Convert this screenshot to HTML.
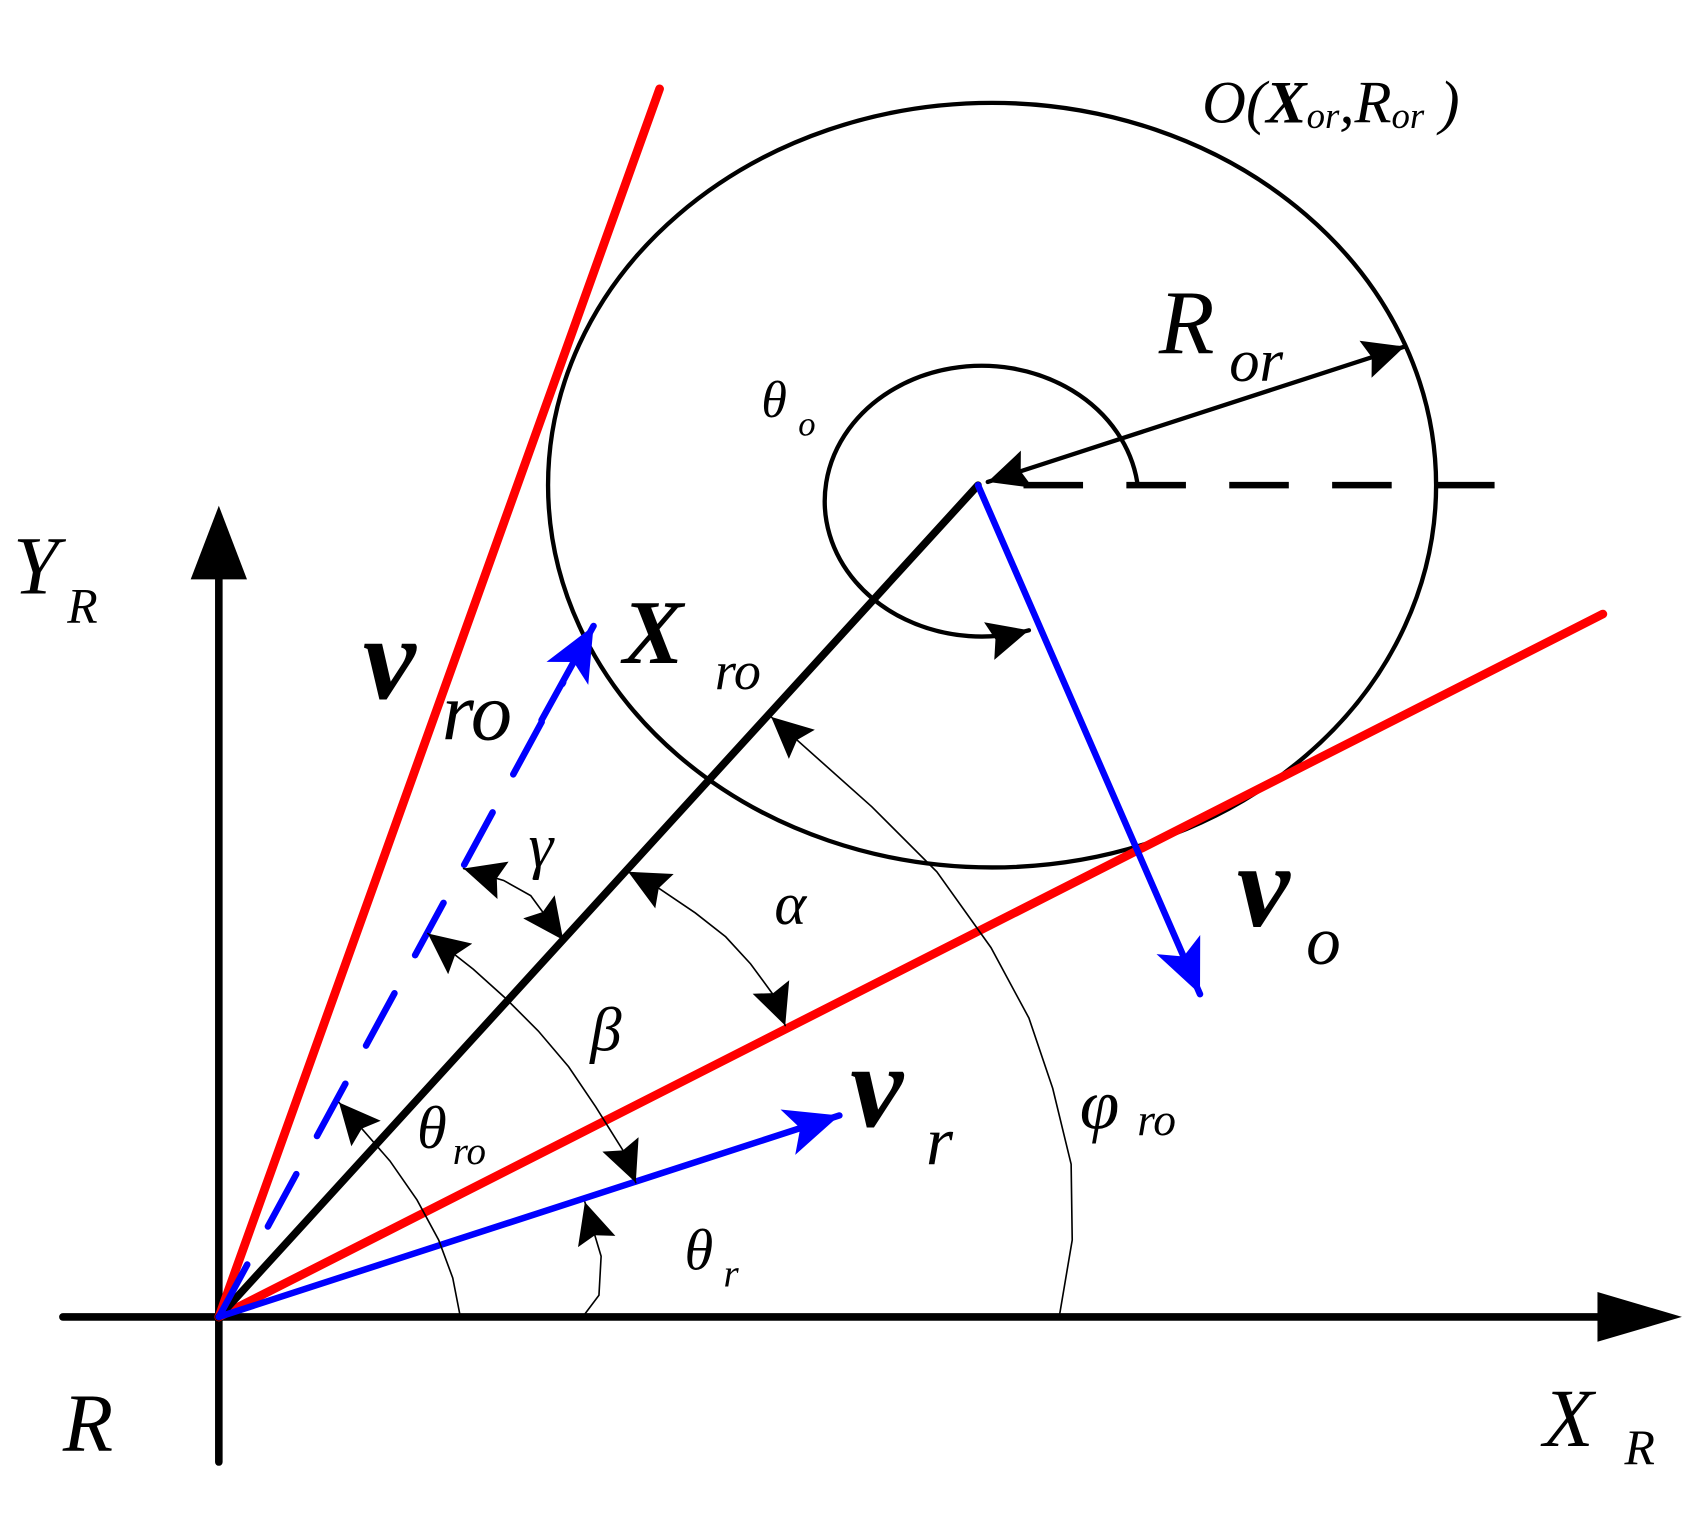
<!DOCTYPE html>
<html><head><meta charset="utf-8"><style>html,body{margin:0;padding:0;background:#fff}svg{display:block}</style></head>
<body>
<svg width="1695" height="1527" viewBox="0 0 1565 1410" xmlns="http://www.w3.org/2000/svg">
<defs>
<marker id="ak" markerUnits="userSpaceOnUse" markerWidth="44" markerHeight="44" refX="38" refY="18" orient="auto-start-reverse" viewBox="0 0 44 36"><polygon points="0,0 38,18 0,36 6,18" fill="#000"/></marker>
<marker id="ab" markerUnits="userSpaceOnUse" markerWidth="56" markerHeight="56" refX="50" refY="22" orient="auto" viewBox="0 0 56 44"><polygon points="0,0 50,22 0,44 12,22" fill="#00f"/></marker>
</defs>
<g fill="none" stroke-linecap="round">
<ellipse cx="916" cy="448" rx="410" ry="353" stroke="#000" stroke-width="4"/>
<path d="M1050,445 A145,125 0 1 0 950,582" stroke="#000" stroke-width="4" marker-end="url(#ak)"/>
<line x1="945" y1="448" x2="1385" y2="448" stroke="#000" stroke-width="6" stroke-dasharray="55 40" stroke-linecap="butt"/>
<line x1="912" y1="445" x2="1297" y2="320" stroke="#000" stroke-width="4" marker-start="url(#ak)" marker-end="url(#ak)"/>
<line x1="58" y1="1216" x2="1480" y2="1216" stroke="#000" stroke-width="7"/>
<polygon points="1475,1193 1553,1216 1475,1239" fill="#000"/>
<line x1="202" y1="1350" x2="202" y2="530" stroke="#000" stroke-width="7"/>
<polygon points="176,535 202,467 228,535" fill="#000"/>
<line x1="202" y1="1216" x2="609" y2="82" stroke="#f00" stroke-width="8"/>
<line x1="202" y1="1216" x2="1480" y2="567" stroke="#f00" stroke-width="8"/>
<line x1="202" y1="1216" x2="903" y2="448" stroke="#000" stroke-width="7"/>
<line x1="903" y1="448" x2="1108" y2="918" stroke="#00f" stroke-width="6" marker-end="url(#ab)"/>
<line x1="202" y1="1216" x2="775" y2="1030" stroke="#00f" stroke-width="6" marker-end="url(#ab)"/>
<line x1="202" y1="1216" x2="520" y2="630" stroke="#00f" stroke-width="6" stroke-dasharray="55 40" stroke-linecap="round"/>
<line x1="500" y1="665" x2="548" y2="578" stroke="#00f" stroke-width="6" marker-end="url(#ab)"/>
<g stroke="#000" stroke-width="1.5">
<polyline points="978,1216 990,1145 989,1075 972,1005 950,940 915,875 865,805 805,745 712,662" marker-end="url(#ak)"/>
<polyline points="538,1216 553,1196 555,1160 540,1110" marker-end="url(#ak)"/>
<polyline points="425,1216 418,1180 405,1145 385,1108 360,1072 313,1018" marker-end="url(#ak)"/>
<polyline points="395,862 437,895 467,922 497,952 525,985 550,1022 575,1062 587,1092" marker-start="url(#ak)" marker-end="url(#ak)"/>
<polyline points="580,805 608,820 642,843 670,865 693,890 715,920 725,947" marker-start="url(#ak)" marker-end="url(#ak)"/>
<polyline points="428,802 465,813 490,827 520,868" marker-start="url(#ak)" marker-end="url(#ak)"/>
</g>
</g>
<g fill="#000" font-family="Liberation Serif, serif" font-style="italic">
<text x="1110" y="113" font-size="56">O(<tspan font-weight="bold">X</tspan><tspan font-size="34" dy="5">or</tspan><tspan dy="-5">,</tspan><tspan>R</tspan><tspan font-size="34" dy="5">or</tspan><tspan dy="-5"> )</tspan></text>
<text x="1070" y="326" font-size="84">R</text><text x="1135" y="352" font-size="56">or</text>
<text x="703" y="385" font-size="48">θ</text><text x="737" y="402" font-size="32">o</text>
<text x="575" y="612" font-size="84" font-weight="bold">X</text><text x="660" y="636" font-size="50">ro</text>
<text x="335" y="645" font-size="110" font-weight="bold">v</text><text x="408" y="683" font-size="76">ro</text>
<text x="488" y="800" font-size="58">γ</text>
<text x="715" y="853" font-size="56">α</text>
<text x="545" y="970" font-size="58">β</text>
<text x="1142" y="855" font-size="110" font-weight="bold">v</text><text x="1206" y="890" font-size="64">o</text>
<text x="785" y="1040" font-size="110" font-weight="bold">v</text><text x="855" y="1075" font-size="64">r</text>
<text x="997" y="1042" font-size="66">φ</text><text x="1050" y="1048" font-size="42">ro</text>
<text x="385" y="1060" font-size="56">θ</text><text x="418" y="1075" font-size="36">ro</text>
<text x="632" y="1172" font-size="54">θ</text><text x="668" y="1188" font-size="36">r</text>
<text x="12" y="548" font-size="76">Y</text><text x="62" y="575" font-size="46">R</text>
<text x="58" y="1340" font-size="76">R</text>
<text x="1425" y="1335" font-size="76">X</text><text x="1500" y="1352" font-size="46">R</text>
</g>
</svg>
</body></html>
